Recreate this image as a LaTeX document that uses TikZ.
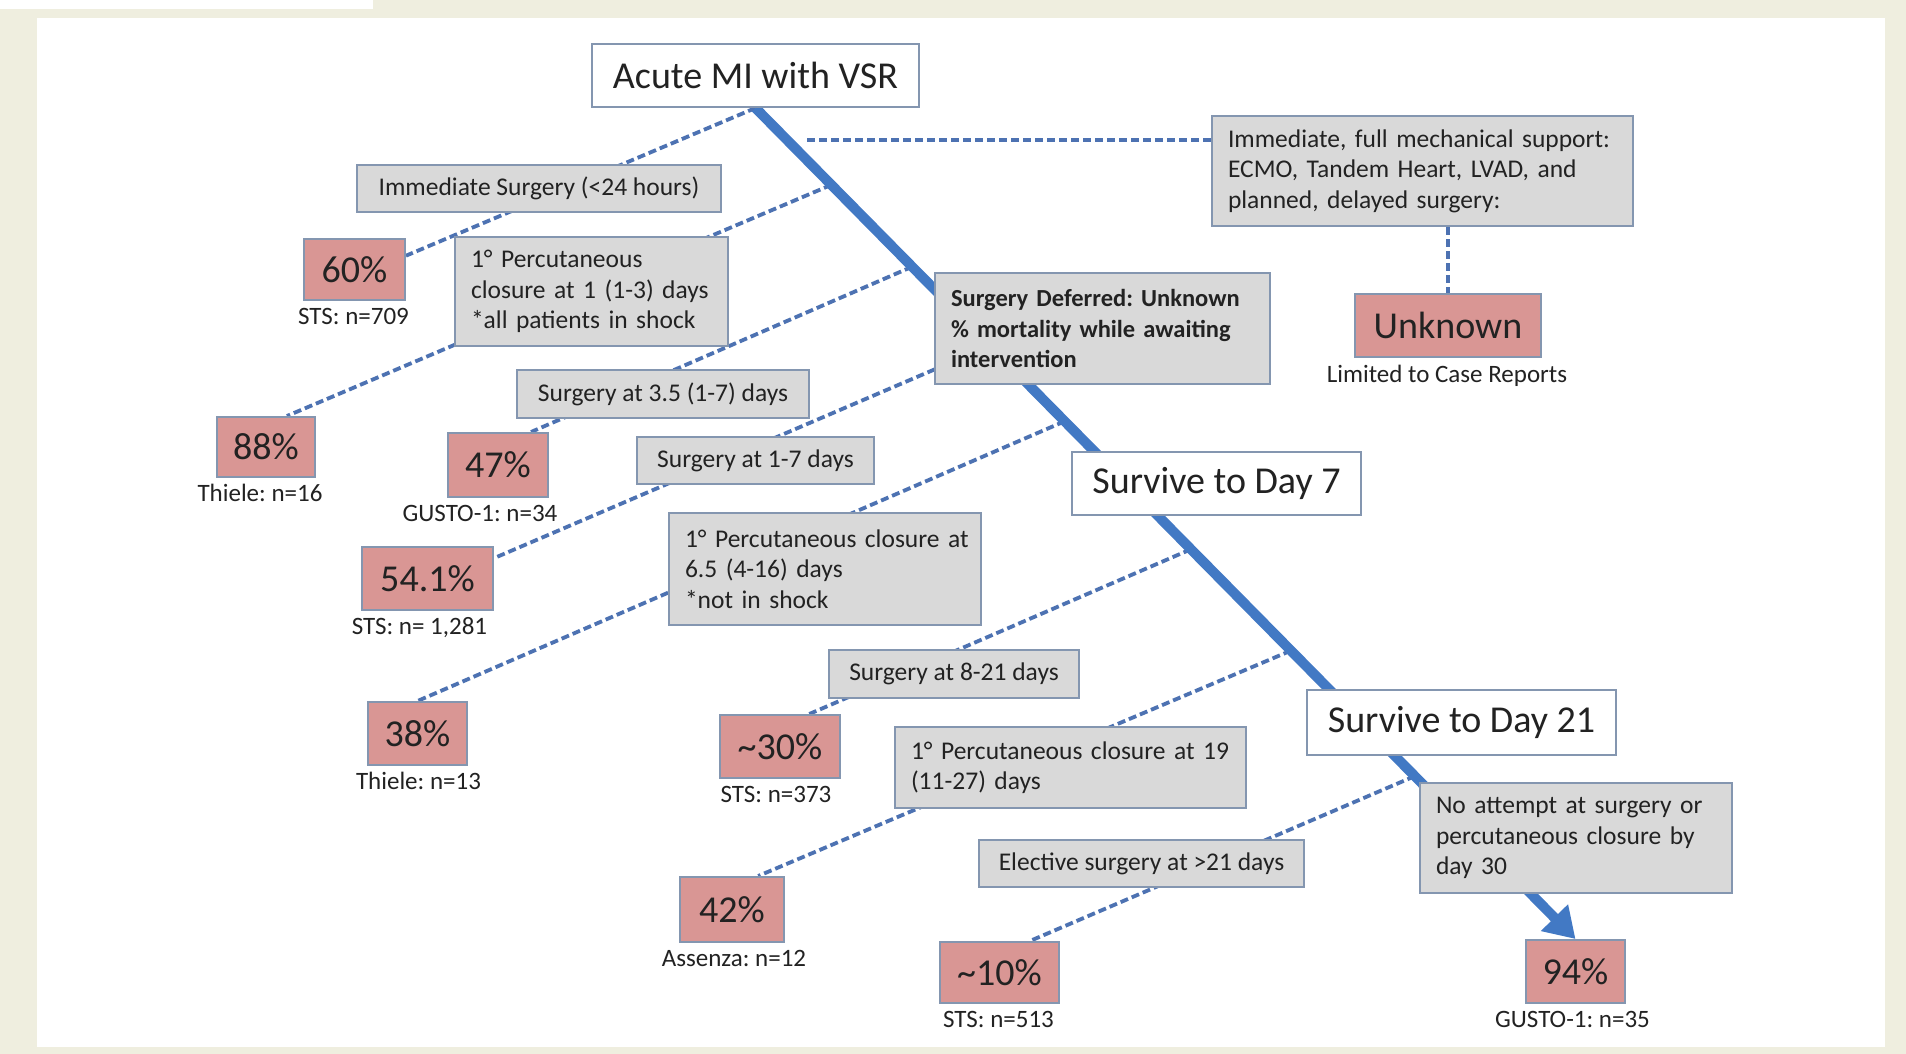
\documentclass[tikz,border=0pt]{standalone}
\usepackage{fontspec}
\setmainfont{Carlito}
\usetikzlibrary{calc,arrows.meta}
\definecolor{framebeige}{HTML}{EFEEDF}
\definecolor{boxgray}{HTML}{D9D9D9}
\definecolor{pinkfill}{HTML}{D99694}
\definecolor{edgeblue}{HTML}{8496B0}
\definecolor{mainblue}{HTML}{4279C4}
\definecolor{dashblue}{HTML}{4D72B2}
\definecolor{txt}{HTML}{222222}
\pgfdeclarelayer{bg}
\pgfsetlayers{bg,main}
\frenchspacing
\begin{document}
\frenchspacing
\begin{tikzpicture}[x=1pt,y=-1pt,
  basebox/.style={draw=edgeblue, line width=2pt, text=txt, inner sep=0pt},
  labelbox/.style={basebox, fill=boxgray, font=\fontsize{25.5}{30.5}\selectfont},
  multibox/.style={labelbox, align=left, inner xsep=16pt},
  pctbox/.style={basebox, fill=pinkfill, font=\fontsize{38}{44}\selectfont},
  whitebox/.style={basebox, fill=white, font=\fontsize{38}{44}\selectfont},
  captext/.style={font=\fontsize{25}{30}\selectfont, text=txt, anchor=base, inner sep=0pt},
  dashline/.style={dashblue, line width=3.8pt, dash pattern=on 8pt off 4pt},
  mainline/.style={mainblue, line width=10pt, -{Triangle[length=30pt,width=36pt]}}
]
% ---------- nodes ----------
\node[whitebox, minimum width=327pt, minimum height=63pt] (acute) at (755.5,75.5) {Acute MI with VSR};
\node[labelbox, minimum width=364pt, minimum height=47pt] (imm) at (539,188.5) {Immediate Surgery (<24 hours)};
\node[pctbox, minimum width=101pt, minimum height=61pt] (p60) at (354.5,269.5) {60\%};
\node[multibox, text width=241pt, minimum height=109pt] (perc1) at (591.5,291.5) {\mbox{1° Percutaneous}\\\mbox{closure at 1 (1-3) days}\\\mbox{*all patients in shock}};
\node[pctbox, minimum width=98pt, minimum height=60pt] (p88) at (266,447) {88\%};
\node[labelbox, minimum width=292pt, minimum height=48pt] (surg35) at (663,394) {Surgery at 3.5 (1-7) days};
\node[pctbox, minimum width=100pt, minimum height=64pt] (p47) at (498,465) {47\%};
\node[labelbox, minimum width=237pt, minimum height=47pt] (surg17) at (755.5,460.5) {Surgery at 1-7 days};
\node[multibox, text width=280pt, minimum height=112pt] (perc65) at (825,569) {\mbox{1° Percutaneous closure at}\\\mbox{6.5 (4-16) days}\\\mbox{*not in shock}};
\node[pctbox, minimum width=131pt, minimum height=63pt] (p54) at (427.5,578.5) {54.1\%};
\node[pctbox, minimum width=99pt, minimum height=63pt] (p38) at (417.5,733.5) {38\%};
\node[labelbox, minimum width=250pt, minimum height=48pt] (surg821) at (954,674) {Surgery at 8-21 days};
\node[pctbox, minimum width=120pt, minimum height=63pt] (p30) at (780,746.5) {{\char"7E}30\%};
\node[multibox, text width=319pt, minimum height=81pt] (perc19) at (1070.5,767.5) {\mbox{1° Percutaneous closure at 19}\\\mbox{(11-27) days}};
\node[pctbox, minimum width=104pt, minimum height=65pt] (p42) at (732,909.5) {42\%};
\node[labelbox, minimum width=325pt, minimum height=47pt] (elective) at (1141.5,863.5) {Elective surgery at >21 days};
\node[pctbox, minimum width=119pt, minimum height=61pt] (p10) at (999.5,972.5) {{\char"7E}10\%};
\node[multibox, text width=303pt, minimum height=111pt, font=\fontsize{24.5}{30.5}\selectfont\bfseries] (deferred) at (1102.5,328.5) {\mbox{Surgery Deferred: Unknown}\\\mbox{\% mortality while awaiting}\\\mbox{intervention}};
\node[multibox, text width=389pt, minimum height=110pt] (mech) at (1422.5,171) {\mbox{Immediate, full mechanical support:}\\\mbox{ECMO, Tandem Heart, LVAD, and}\\\mbox{planned, delayed surgery:}};
\node[pctbox, minimum width=186pt, minimum height=63pt] (unknown) at (1448,325.5) {Unknown};
\node[whitebox, minimum width=289pt, minimum height=63pt] (day7) at (1216.5,483.5) {Survive to Day 7};
\node[whitebox, minimum width=309pt, minimum height=65pt] (day21) at (1461.5,722.5) {Survive to Day 21};
\node[multibox, text width=280pt, minimum height=110pt] (noatt) at (1576,838) {\mbox{No attempt at surgery or}\\\mbox{percutaneous closure by}\\\mbox{day 30}};
\node[pctbox, minimum width=99pt, minimum height=63pt] (p94) at (1575.5,971.5) {94\%};
% ---------- captions ----------
\node[captext] (c60) at ($(p60.south)+(-1,23)$) {STS: n=709};
\node[captext] (c88) at ($(p88.south)+(-6,23)$) {Thiele: n=16};
\node[captext] (c47) at ($(p47.south)+(-18,23)$) {GUSTO-1: n=34};
\node[captext] (c54) at ($(p54.south)+(-8,23)$) {STS: n= 1,281};
\node[captext] (c38) at ($(p38.south)+(1,23)$) {Thiele: n=13};
\node[captext] (c30) at ($(p30.south)+(-4,23)$) {STS: n=373};
\node[captext] (c42) at ($(p42.south)+(2,23)$) {Assenza: n=12};
\node[captext] (c10) at ($(p10.south)+(-1,23)$) {STS: n=513};
\node[captext] (c94) at ($(p94.south)+(-3,23)$) {GUSTO-1: n=35};
\node[captext] (cunk) at ($(unknown.south)+(-1,24)$) {Limited to Case Reports};
% ---------- background and connectors ----------
\begin{pgfonlayer}{bg}
  \fill[framebeige] (0,0) rectangle (1906,1054);
  \fill[white] (0,0) rectangle (373,9);
  \fill[white] (37,18) rectangle (1885,1047);
  \coordinate (m2) at ($(acute.south)!0.0925!(p94.north)$);
  \coordinate (m3) at ($(acute.south)!0.191!(p94.north)$);
  \coordinate (m4) at ($(acute.south)!0.286!(p94.north)$);
  \coordinate (m5) at ($(acute.south)!0.377!(p94.north)$);
  \coordinate (m6) at ($(acute.south)!0.531!(p94.north)$);
  \coordinate (m7) at ($(acute.south)!0.653!(p94.north)$);
  \coordinate (m8) at ($(acute.south)!0.804!(p94.north)$);
  \coordinate (hstart) at (807,140);
  \draw[dashline] (acute.south) -- (p60.15);
  \draw[dashline] (m2) -- (p88.56);
  \draw[dashline] (m3) -- (p47.45);
  \draw[dashline] (m4) -- (p54.17);
  \draw[dashline] (m5) -- (p38.north);
  \draw[dashline] (m6) -- (p30.48);
  \draw[dashline] (m7) -- (p42.52);
  \draw[dashline] (m8) -- (p10.46);
  \draw[dashline] (hstart) -- (hstart -| mech.west);
  \draw[dashline] (mech.south -| unknown.north) -- (unknown.north);
  \draw[mainline] (acute.south) -- (p94.north);
\end{pgfonlayer}
\end{tikzpicture}
\end{document}
